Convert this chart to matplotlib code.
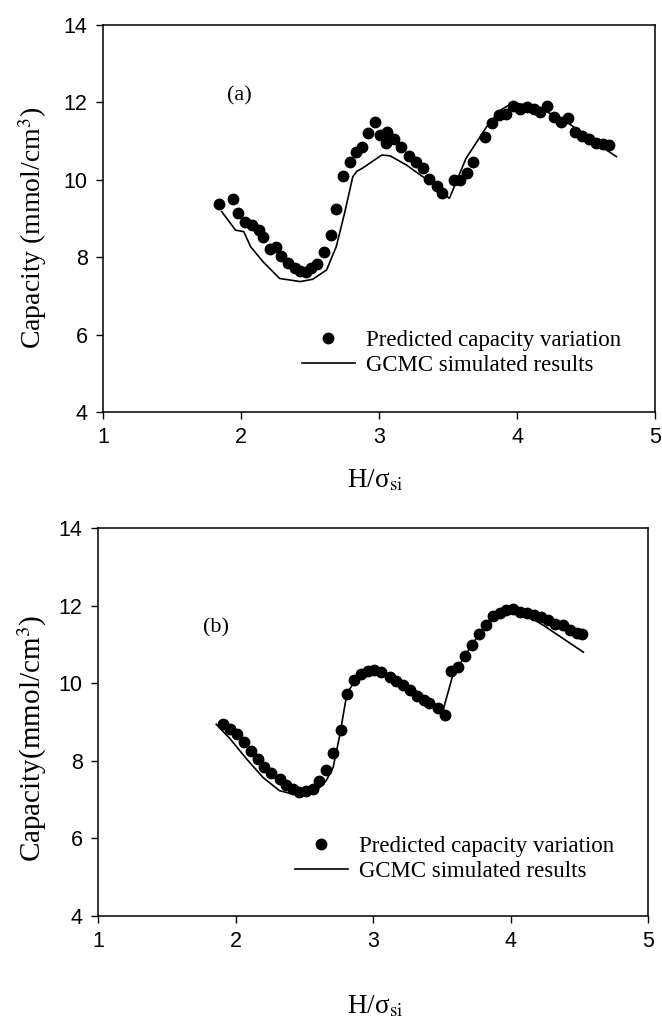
import matplotlib
matplotlib.use("Agg")
import matplotlib.pyplot as plt

plt.rcParams['mathtext.fontset'] = 'stix'

# ---- Panel (a) data ----
a_pred_x = [1.84, 1.94, 1.98, 2.03, 2.08, 2.13, 2.16, 2.21, 2.25, 2.29, 2.34, 2.39, 2.43, 2.47,
            2.51, 2.55, 2.60, 2.65, 2.69, 2.74, 2.79, 2.83, 2.88, 2.92, 2.97, 3.01, 3.05, 3.06,
            3.11, 3.16, 3.22, 3.27, 3.32, 3.36, 3.42, 3.46, 3.54, 3.59, 3.64, 3.68, 3.77, 3.82,
            3.87, 3.92, 3.97, 4.02, 4.07, 4.12, 4.17, 4.22, 4.27, 4.32, 4.37, 4.42, 4.47, 4.52,
            4.57, 4.62, 4.67]
a_pred_y = [9.37, 9.50, 9.15, 8.92, 8.83, 8.70, 8.53, 8.20, 8.27, 8.03, 7.84, 7.71, 7.65, 7.62,
            7.71, 7.82, 8.14, 8.57, 9.25, 10.10, 10.46, 10.72, 10.86, 11.22, 11.49, 11.16, 10.96, 11.24,
            11.05, 10.86, 10.62, 10.47, 10.30, 10.01, 9.84, 9.67, 9.99, 9.99, 10.17, 10.47, 11.10, 11.48,
            11.67, 11.70, 11.91, 11.82, 11.88, 11.82, 11.74, 11.91, 11.63, 11.50, 11.59, 11.24, 11.13, 11.05,
            10.94, 10.92, 10.90]
a_gcmc_x = [1.86, 1.96, 2.02, 2.07, 2.16, 2.28, 2.43, 2.52, 2.62, 2.69, 2.75, 2.81, 2.84, 2.88,
            2.95, 3.02, 3.08, 3.20, 3.25, 3.37, 3.51, 3.63, 3.78, 3.88, 3.97, 4.07, 4.21, 4.36,
            4.50, 4.72]
a_gcmc_y = [9.18, 8.70, 8.66, 8.27, 7.88, 7.45, 7.37, 7.43, 7.67, 8.27, 9.13, 10.08, 10.22, 10.30,
            10.47, 10.64, 10.62, 10.38, 10.25, 9.95, 9.52, 10.55, 11.37, 11.80, 11.99, 11.93, 11.77, 11.50,
            11.12, 10.60]

# ---- Panel (b) data ----
b_pred_x = [1.91, 1.96, 2.01, 2.06, 2.11, 2.16, 2.21, 2.26, 2.32, 2.37, 2.42, 2.46, 2.51, 2.56,
            2.61, 2.66, 2.71, 2.77, 2.81, 2.86, 2.91, 2.96, 3.01, 3.06, 3.12, 3.17, 3.22, 3.27,
            3.32, 3.37, 3.41, 3.47, 3.52, 3.57, 3.62, 3.67, 3.72, 3.77, 3.82, 3.87, 3.92, 3.97,
            4.02, 4.07, 4.12, 4.17, 4.22, 4.27, 4.32, 4.38, 4.43, 4.48, 4.52]
b_pred_y = [8.95, 8.82, 8.68, 8.48, 8.26, 8.05, 7.85, 7.68, 7.53, 7.38, 7.27, 7.19, 7.21, 7.27,
            7.47, 7.76, 8.19, 8.79, 9.73, 10.07, 10.23, 10.31, 10.35, 10.28, 10.16, 10.05, 9.95, 9.83,
            9.68, 9.57, 9.49, 9.36, 9.17, 10.31, 10.43, 10.69, 10.98, 11.26, 11.51, 11.73, 11.81, 11.88,
            11.90, 11.84, 11.81, 11.75, 11.71, 11.62, 11.53, 11.49, 11.38, 11.29, 11.26]
b_gcmc_x = [1.86, 1.96, 2.08, 2.20, 2.32, 2.42, 2.57, 2.66, 2.71, 2.76, 2.81, 2.87, 2.95, 3.03,
            3.17, 3.35, 3.51, 3.58, 3.72, 3.87, 4.02, 4.24, 4.53]
b_gcmc_y = [8.94, 8.57, 8.05, 7.57, 7.23, 7.14, 7.16, 7.49, 7.83, 8.69, 9.73, 10.07, 10.29, 10.33,
            10.11, 9.72, 9.31, 10.20, 11.00, 11.75, 11.95, 11.49, 10.80]

x_ticks = [1, 2, 3, 4, 5]
y_ticks = [4, 6, 8, 10, 12, 14]
legend_labels = ["Predicted capacity variation", "GCMC simulated results"]
panel_labels = ["(a)", "(b)"]
ylabels = [r"Capacity (mmol/cm$^3$)", r"Capacity(mmol/cm$^3$)"]
xlabel = r"H/σ$_{\mathrm{si}}$"

W, H = 662, 1023
fig = plt.figure(figsize=(W / 100, H / 100), dpi=100)

serif = "Liberation Serif"
sans = "Liberation Sans"

# axes boxes in pixels: left, right, top, bottom
boxes = [(103, 655, 25, 412), (98, 648, 528, 916)]
panels = [(a_pred_x, a_pred_y, a_gcmc_x, a_gcmc_y), (b_pred_x, b_pred_y, b_gcmc_x, b_gcmc_y)]
label_pos = [(1.90, 12.05), (1.76, 11.3)]
legend_anchor = [(302, 330), (295, 836)]  # pixel left/top of legend
ylabel_pos = [(33, 228, 20), (32, 738, 21)]
xlabel_y = [481, 1007]

for i, ((l, r, t, b), (px, py, gx, gy)) in enumerate(zip(boxes, panels)):
    ax = fig.add_axes([l / W, 1 - b / H, (r - l) / W, (b - t) / H])
    ax.plot(gx, gy, color='black', lw=1.2, label=legend_labels[1])
    ax.plot(px, py, 'o', color='black', ms=7.5, mec='black', label=legend_labels[0])
    ax.set_xlim(1, 5)
    ax.set_ylim(4, 14)
    ax.set_xticks(x_ticks)
    ax.set_yticks(y_ticks)
    ax.tick_params(axis='both', direction='out', length=5, width=1, labelsize=15.5, pad=6,
                   top=False, right=False)
    for lab in ax.get_xticklabels() + ax.get_yticklabels():
        lab.set_fontfamily(sans)
    for s in ax.spines.values():
        s.set_linewidth(1.1)
    ax.text(label_pos[i][0], label_pos[i][1], panel_labels[i], fontsize=16, family=serif)

    handles, labels = ax.get_legend_handles_labels()
    lx, ly = legend_anchor[i]
    ax.legend([handles[1], handles[0]], [labels[1], labels[0]],
              loc='upper left', bbox_to_anchor=(lx / W, 1 - ly / H),
              bbox_transform=fig.transFigure, frameon=False,
              prop={'family': serif, 'size': 16.5}, handlelength=2.3,
              handletextpad=0.5, labelspacing=0.18, borderpad=0, borderaxespad=0)

    yx, yc, yfs = ylabel_pos[i]
    fig.text(yx / W, 1 - yc / H, ylabels[i], rotation=90,
             ha='center', va='center', fontsize=yfs, family=serif)
    fig.text(375 / W, 1 - xlabel_y[i] / H, xlabel, ha='center', va='center',
             fontsize=19.5, family=serif)

fig.savefig("out.png", dpi=100)
